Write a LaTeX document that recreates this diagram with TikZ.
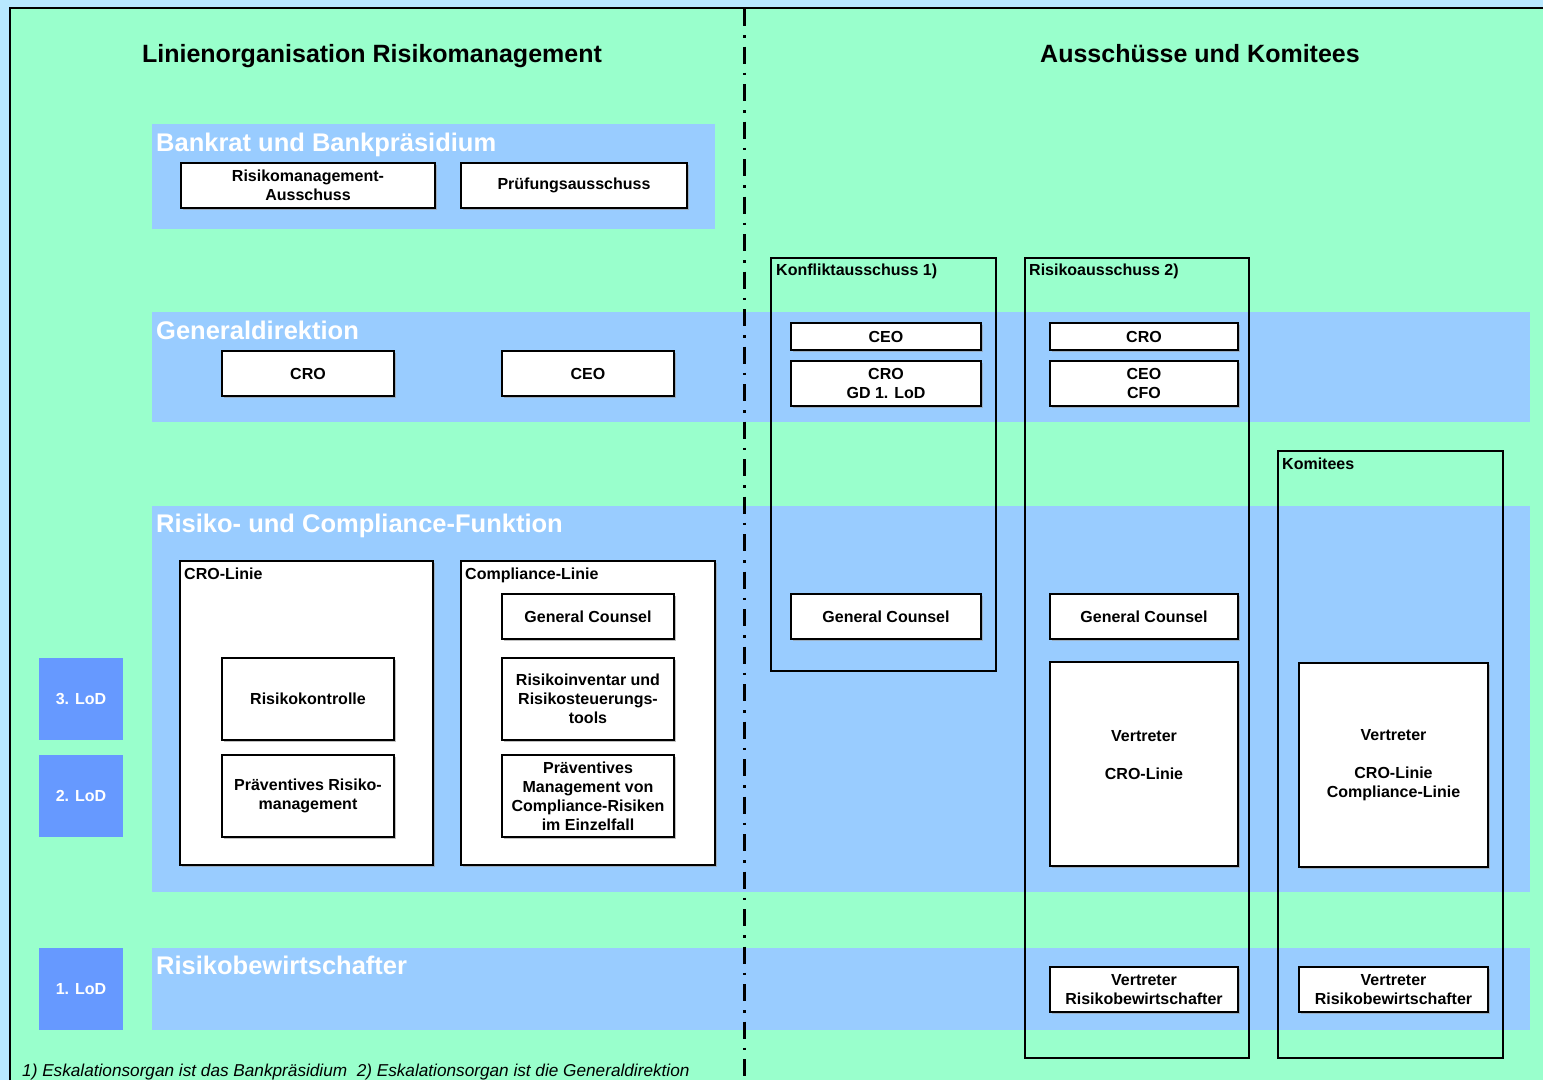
\documentclass[tikz,border=0pt]{standalone}
\usepackage{fontspec}
\setmainfont{Liberation Sans}
\usepackage{xcolor}
\usetikzlibrary{shadows}

\definecolor{bggreen}{HTML}{99FFCC}
\definecolor{bandblue}{HTML}{99CCFF}
\definecolor{lodblue}{HTML}{6699FF}
\definecolor{outerblue}{HTML}{B8E8FF}

\begin{document}
\begin{tikzpicture}[x=1pt, y=-1pt,
  band/.style={fill=bandblue},
  bandtitle/.style={anchor=base west, inner sep=0pt, text=white, font=\bfseries\fontsize{25.5}{30}\selectfont},
  heading/.style={anchor=base, inner sep=0pt, font=\bfseries\fontsize{25}{30}\selectfont},
  unit/.style={draw, line width=2pt, fill=white, align=center, inner sep=1pt,
    font=\bfseries\fontsize{16}{19}\selectfont,
    drop shadow={shadow xshift=1.5pt, shadow yshift=-1.5pt, fill=black!40, opacity=0.6}},
  frame/.style={draw, line width=2pt, inner sep=0pt},
  linie/.style={frame, fill=white,
    drop shadow={shadow xshift=1.5pt, shadow yshift=-1.5pt, fill=black!40, opacity=0.6}},
  framelabel/.style={anchor=base west, inner sep=0pt, font=\bfseries\fontsize{16}{19}\selectfont},
  lod/.style={fill=lodblue, text=white, minimum width=84pt, minimum height=82pt, inner sep=0pt,
    font=\bfseries\fontsize{16}{19}\selectfont},
  note/.style={anchor=base west, inner sep=0pt, font=\itshape\fontsize{17.2}{20}\selectfont}
]
  \useasboundingbox (0,0) rectangle (1543,1080);

  % ======= Hintergrund =======
  \fill[outerblue] (0,0) rectangle (1543,1080);
  \fill[bggreen] (10,8) rectangle (1543,1080);
  \draw[line width=2pt] (10,1080) -- (10,8) -- (1543,8);

  % Ueberschriften
  \node[heading] (hlinie) at (372,62.5) {Linienorganisation Risikomanagement};
  \node[heading] (hauss) at (1200,62.5) {Ausschüsse und Komitees};

  % ======= Baender =======
  \fill[band] (152,124) rectangle (715,229);
  \fill[band] (152,312) rectangle (1530,422);
  \fill[band] (152,506) rectangle (1530,892);
  \fill[band] (152,948) rectangle (1530,1030);

  \node[bandtitle] (tbank) at (156,151) {Bankrat und Bankpräsidium};
  \node[bandtitle] (tgd) at (156,339) {Generaldirektion};
  \node[bandtitle] (trisk) at (156,532) {Risiko- und Compliance-Funktion};
  \node[bandtitle] (trb) at (156,974) {Risikobewirtschafter};

  % Trennlinie
  \draw[line width=3pt, dash pattern=on 17pt off 9pt on 2.5pt off 9pt] (744,9) -- (744,1080);

  % ======= Linienorganisation =======
  \node[unit, minimum width=254pt, minimum height=45pt] (rma) at (308,185.5) {Risikomanagement-\\Ausschuss};
  \node[unit, minimum width=226pt, minimum height=45pt] (pruef) at (574,185.5) {Prüfungsausschuss};

  \node[unit, minimum width=172pt, minimum height=45pt] (gdcro) at (308,373.5) {CRO};
  \node[unit, minimum width=172pt, minimum height=45pt] (gdceo) at (588,373.5) {CEO};

  \node[linie, minimum width=253pt, minimum height=304pt] (crolinie) at (306.5,713) {};
  \node[framelabel] (lcrolinie) at (184,579) {CRO-Linie};
  \node[linie, minimum width=254pt, minimum height=304pt] (compl) at (588,713) {};
  \node[framelabel] (lcompl) at (465,579) {Compliance-Linie};

  \node[unit, minimum width=172pt, minimum height=82pt] (kontrolle) at (308,699) {Risikokontrolle};
  \node[unit, minimum width=172pt, minimum height=82pt] (praevrm) at (308,796) {Präventives Risiko-\\management};
  \node[unit, minimum width=172pt, minimum height=45pt] (gccompl) at (588,616.5) {General Counsel};
  \node[unit, minimum width=172pt, minimum height=82pt] (inventar) at (588,699) {Risikoinventar und\\Risikosteuerungs-\\tools};
  \node[unit, minimum width=172pt, minimum height=82pt] (praevcompl) at (588,796) {Präventives\\Management von\\Compliance-Risiken\\im Einzelfall};

  % Lines of Defence
  \node[lod] (lod3) at (81,699) {3. LoD};
  \node[lod] (lod2) at (81,796) {2. LoD};
  \node[lod] (lod1) at (81,989) {1. LoD};

  % ======= Ausschuesse und Komitees =======
  \node[frame, minimum width=225pt, minimum height=413pt] (konflikt) at (883.5,464.5) {};
  \node[framelabel] (lkonflikt) at (776,275) {Konfliktausschuss 1)};
  \node[unit, minimum width=190pt, minimum height=27pt] (kceo) at (886,336.5) {CEO};
  \node[unit, minimum width=190pt, minimum height=45pt] (kcro) at (886,383.5) {CRO\\GD 1. LoD};
  \node[unit, minimum width=190pt, minimum height=45pt] (kgc) at (886,616.5) {General Counsel};

  \node[frame, minimum width=224pt, minimum height=800pt] (risikoa) at (1137,658) {};
  \node[framelabel] (lrisikoa) at (1029,275) {Risikoausschuss 2)};
  \node[unit, minimum width=188pt, minimum height=27pt] (rcro) at (1144,336.5) {CRO};
  \node[unit, minimum width=188pt, minimum height=45pt] (rceo) at (1144,383.5) {CEO\\CFO};
  \node[unit, minimum width=188pt, minimum height=45pt] (rgc) at (1144,616.5) {General Counsel};
  \node[unit, minimum width=188pt, minimum height=204pt] (rvert) at (1144,764) {Vertreter\\ \mbox{}\\CRO-Linie\\ \mbox{}};
  \node[unit, minimum width=188pt, minimum height=45pt] (rvrb) at (1144,989.5) {Vertreter\\Risikobewirtschafter};

  \node[frame, minimum width=225pt, minimum height=607pt] (komitees) at (1390.5,754.5) {};
  \node[framelabel] (lkomitees) at (1282,469) {Komitees};
  \node[unit, minimum width=189pt, minimum height=204pt] (kvert) at (1393.5,765) {Vertreter\\ \mbox{}\\CRO-Linie\\Compliance-Linie};
  \node[unit, minimum width=189pt, minimum height=45pt] (kvrb) at (1393.5,989.5) {Vertreter\\Risikobewirtschafter};

  % Fussnote
  \node[note] (fussnote) at (22,1076) {1) Eskalationsorgan ist das Bankpräsidium\ \ 2) Eskalationsorgan ist die Generaldirektion};

\end{tikzpicture}
\end{document}
